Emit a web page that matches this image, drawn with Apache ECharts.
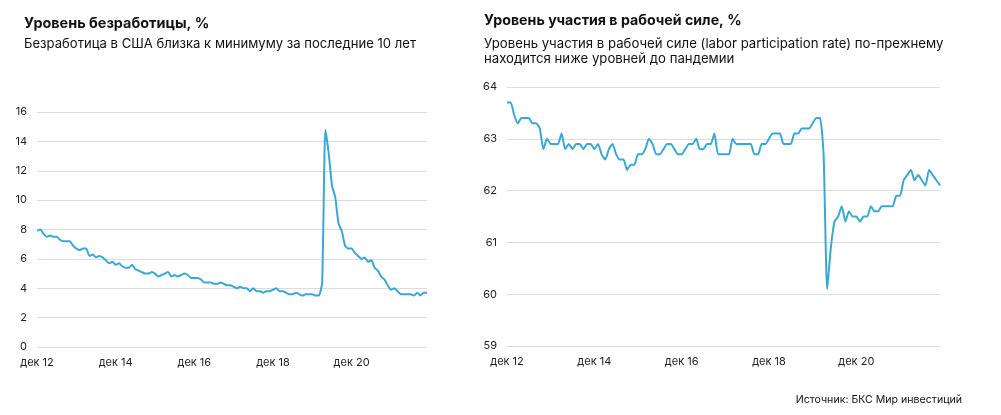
<!DOCTYPE html>
<html>
<head>
<meta charset="utf-8">
<script src="https://cdn.jsdelivr.net/npm/echarts@6/dist/echarts.min.js"></script>
<style>
html,body{margin:0;padding:0;background:#fff;}
#c{width:1001px;height:415px;}
</style>
</head>
<body>
<div id="c"></div>
<script>
// Months from Dec 2012 to Nov 2022 (120 points)
const monthNames = ['янв','фев','мар','апр','май','июн','июл','авг','сен','окт','ноя','дек'];
const categories = [];
for (let i = 0; i < 120; i++) {
  const m = (11 + i) % 12;
  const y = 12 + Math.floor((11 + i) / 12);
  categories.push(monthNames[m] + ' ' + y);
}

const unemployment = [
  7.9, 8.0, 7.7, 7.5, 7.6, 7.5, 7.5, 7.3, 7.2, 7.2, 7.2, 6.9,
  6.7, 6.6, 6.7, 6.7, 6.2, 6.3, 6.1, 6.2, 6.1, 5.9, 5.7, 5.8,
  5.6, 5.7, 5.5, 5.4, 5.4, 5.6, 5.3, 5.2, 5.1, 5.0, 5.0, 5.1,
  5.0, 4.8, 4.9, 5.0, 5.1, 4.8, 4.9, 4.8, 4.9, 5.0, 4.9, 4.7,
  4.7, 4.7, 4.6, 4.4, 4.4, 4.4, 4.3, 4.3, 4.4, 4.3, 4.2, 4.2,
  4.1, 4.0, 4.1, 4.0, 4.0, 3.8, 4.0, 3.8, 3.8, 3.7, 3.8, 3.8,
  3.9, 4.0, 3.8, 3.8, 3.7, 3.6, 3.6, 3.7, 3.6, 3.5, 3.6, 3.6,
  3.6, 3.5, 3.5, 4.4, 14.8, 13.2, 11.0, 10.2, 8.4, 7.9, 6.9, 6.7,
  6.7, 6.4, 6.2, 6.0, 6.1, 5.8, 5.9, 5.4, 5.2, 4.8, 4.6, 4.2,
  3.9, 4.0, 3.8, 3.6, 3.6, 3.6, 3.6, 3.5, 3.7, 3.5, 3.7, 3.7
];

const participation = [
  63.7, 63.7, 63.45, 63.3, 63.4, 63.4, 63.4, 63.3, 63.3, 63.2, 62.8, 63.0,
  62.9, 62.9, 62.9, 63.1, 62.8, 62.9, 62.8, 62.9, 62.9, 62.8, 62.9, 62.9,
  62.8, 62.9, 62.7, 62.6, 62.8, 62.9, 62.7, 62.6, 62.6, 62.4, 62.5, 62.5,
  62.7, 62.7, 62.8, 63.0, 62.9, 62.7, 62.7, 62.8, 62.9, 62.9, 62.8, 62.7,
  62.7, 62.8, 62.9, 62.9, 63.0, 62.8, 62.8, 62.9, 62.9, 63.1, 62.7, 62.7,
  62.7, 62.7, 63.0, 62.9, 62.9, 62.9, 62.9, 62.9, 62.7, 62.7, 62.9, 62.9,
  63.0, 63.1, 63.1, 63.1, 62.9, 62.9, 62.9, 63.1, 63.1, 63.2, 63.2, 63.2,
  63.3, 63.4, 63.4, 62.7, 60.1, 60.9, 61.4, 61.5, 61.7, 61.4, 61.6, 61.5,
  61.5, 61.4, 61.5, 61.5, 61.7, 61.6, 61.6, 61.7, 61.7, 61.7, 61.7, 61.9,
  61.9, 62.2, 62.3, 62.4, 62.2, 62.3, 62.2, 62.1, 62.4, 62.3, 62.2, 62.1
];

const leftTitle = 'Уровень безработицы, %';
const leftSub = 'Безработица в США близка к минимуму за последние 10 лет';
const rightTitle = 'Уровень участия в рабочей силе, %';
const rightSub = 'Уровень участия в рабочей силе (labor participation rate) по-прежнему\nнаходится ниже уровней до пандемии';
const sourceText = 'Источник: БКС Мир инвестиций';

const FONT = 'Inter, "Noto Sans", sans-serif';
const lineColor = '#3aa8d4';

const chart = echarts.init(document.getElementById('c'), null, {renderer: 'canvas'});

function xAxis(gridIndex) {
  return {
    type: 'category', gridIndex: gridIndex, data: categories, boundaryGap: false,
    axisLine: {show: false}, axisTick: {show: false},
    axisLabel: {
      interval: 23, color: '#222', fontSize: 11, fontFamily: FONT, margin: 10
    },
    splitLine: {show: false}
  };
}

chart.setOption({
  animation: false,
  backgroundColor: '#fff',
  textStyle: {fontFamily: FONT},
  title: [
    {text: leftTitle, subtext: leftSub, left: 19, top: 12, itemGap: 7,
     textStyle: {fontSize: 14.4, fontWeight: 'bold', color: '#111', fontFamily: FONT},
     subtextStyle: {fontSize: 13.1, color: '#111', fontFamily: FONT}},
    {text: rightTitle, subtext: rightSub, left: 479, top: 9, itemGap: 8,
     textStyle: {fontSize: 14.2, fontWeight: 'bold', color: '#111', fontFamily: FONT},
     subtextStyle: {fontSize: 13.2, color: '#111', fontFamily: FONT, lineHeight: 15.5}},
    {text: sourceText, right: 34, top: 389,
     textStyle: {fontSize: 10.6, fontWeight: 'normal', color: '#111', fontFamily: FONT}}
  ],
  grid: [
    {left: 37, width: 390, top: 112, bottom: 68, containLabel: false},
    {left: 507, width: 433, top: 87, bottom: 69, containLabel: false}
  ],
  xAxis: [xAxis(0), xAxis(1)],
  yAxis: [
    {type: 'value', gridIndex: 0, min: 0, max: 16, interval: 2,
     axisLine: {show: false}, axisTick: {show: false},
     axisLabel: {color: '#222', fontSize: 11, fontFamily: FONT, margin: 10},
     splitLine: {lineStyle: {color: '#dcdcdc', width: 1}}},
    {type: 'value', gridIndex: 1, min: 59, max: 64, interval: 1,
     axisLine: {show: false}, axisTick: {show: false},
     axisLabel: {color: '#222', fontSize: 11, fontFamily: FONT, margin: 10},
     splitLine: {lineStyle: {color: '#dcdcdc', width: 1}}}
  ],
  series: [
    {type: 'line', xAxisIndex: 0, yAxisIndex: 0, data: unemployment, showSymbol: false,
     smooth: 0.2, lineStyle: {color: lineColor, width: 2}},
    {type: 'line', xAxisIndex: 1, yAxisIndex: 1, data: participation, showSymbol: false,
     smooth: 0.2, lineStyle: {color: lineColor, width: 2}}
  ]
});
</script>
</body>
</html>
